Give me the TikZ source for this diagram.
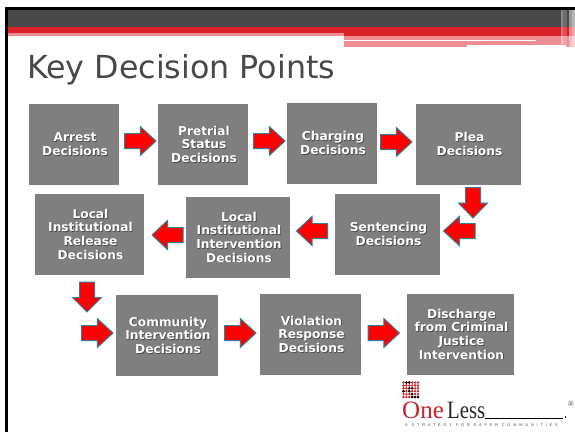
\documentclass[tikz,border=0pt]{standalone}
\usepackage{fontspec}
\setmainfont{DejaVu Sans}
\newfontfamily\logofont{Liberation Serif}
\newfontfamily\tagfont[LetterSpace=72]{Liberation Sans}
\definecolor{boxgray}{HTML}{7F7F7F}
\definecolor{bargray}{HTML}{484848}
\definecolor{barred}{HTML}{DC2028}
\definecolor{barpink}{HTML}{EE8E92}
\definecolor{arrowedge}{HTML}{2F7F95}
\definecolor{logored}{HTML}{C8242C}
\newcommand{\shadowed}[1]{\leavevmode\rlap{\kern0.8pt\raisebox{-0.8pt}{\textcolor{black!70}{#1}}}#1}
\tikzset{
  x=1pt,y=-1pt,
  stage/.style={inner sep=0pt,font=\bfseries\fontsize{12.2}{13.6}\selectfont,text=white,align=center},
  flow/.style={fill=red,draw=arrowedge,line width=1pt,line join=miter},
  logotext/.style={inner sep=0pt,anchor=base west,font=\logofont\fontsize{25}{25}\selectfont},
}
\newcommand{\stagebox}[6]{% name, x0,y0,x1,y1, text
  \path[fill=boxgray] (#2,#3) rectangle (#4,#5);
  \node[stage] (#1) at ({(#2+#4)/2+1},{(#3+#5)/2}) {#6};
}
\newcommand{\rarrow}[3]{\draw[flow] (#1,#3-7.5) -- ({(#1+#2)/2},#3-7.5) -- ({(#1+#2)/2},#3-14.5) -- (#2,#3) -- ({(#1+#2)/2},#3+14.5) -- ({(#1+#2)/2},#3+7.5) -- (#1,#3+7.5) -- cycle;}
\newcommand{\darrow}[3]{\draw[flow] (#1-7.5,#2) -- (#1+7.5,#2) -- (#1+7.5,{#2+15.5}) -- (#1+14.5,{#2+15.5}) -- (#1,#3) -- (#1-14.5,{#2+15.5}) -- (#1-7.5,{#2+15.5}) -- cycle;}
\begin{document}
\begin{tikzpicture}
\useasboundingbox (0,0) rectangle (575,432);
\fill[white] (0,0) rectangle (575,432);
% frame and header
\fill[black] (5,7) rectangle (575,10);
\fill[black] (5,7) rectangle (8,432);
\fill[bargray] (8,10) rectangle (575,27);
\fill[barred] (8,27) rectangle (575,36);
\fill[barpink] (8,33) rectangle (344,36);
\fill[barpink] (344,36) rectangle (575,47);
\fill[white] (344,39.5) rectangle (536,41);
\fill[white] (467,45) rectangle (566,47);
\fill[white,opacity=.35] (561,10) rectangle (563,47);
\fill[white,opacity=.2] (563,10) rectangle (567,47);
\fill[white,opacity=.45] (569,10) rectangle (572,47);
\fill[white,opacity=.6] (572,10) rectangle (575,47);
% title
\node[anchor=base west,inner sep=0pt,text=bargray,font=\fontsize{31.7}{35}\selectfont] (title) at (27,78) {Key Decision Points};
% boxes
\stagebox{arrest}{29}{104}{119}{185}{\shadowed{Arrest}\\\shadowed{Decisions}}
\stagebox{pretrial}{158}{104}{248}{185}{\shadowed{Pretrial}\\\shadowed{Status}\\\shadowed{Decisions}}
\stagebox{charging}{287}{103}{377}{184}{\shadowed{Charging}\\\shadowed{Decisions}}
\stagebox{plea}{416}{104}{521}{185}{\shadowed{Plea}\\\shadowed{Decisions}}
\stagebox{release}{35}{194}{144}{275}{\shadowed{Local}\\\shadowed{Institutional}\\\shadowed{Release}\\\shadowed{Decisions}}
\stagebox{institutional}{186}{197}{290}{278}{\shadowed{Local}\\\shadowed{Institutional}\\\shadowed{Intervention}\\\shadowed{Decisions}}
\stagebox{sentencing}{335}{194}{440}{275}{\shadowed{Sentencing}\\\shadowed{Decisions}}
\stagebox{community}{116}{295}{218}{376}{\shadowed{Community}\\\shadowed{Intervention}\\\shadowed{Decisions}}
\stagebox{violation}{260}{294}{361}{375}{\shadowed{Violation}\\\shadowed{Response}\\\shadowed{Decisions}}
\stagebox{discharge}{407}{294}{514}{375}{\shadowed{Discharge}\\\shadowed{from Criminal}\\\shadowed{Justice}\\\shadowed{Intervention}}
% arrows
\rarrow{124.5}{156}{141}
\rarrow{253.5}{285}{141}
\rarrow{380.5}{412}{142}
\darrow{473}{187.5}{218}
\rarrow{475}{443.5}{231}
\rarrow{327.5}{296.5}{231}
\rarrow{183}{152}{235}
\darrow{87}{282}{312}
\rarrow{81.5}{113}{333}
\rarrow{224.5}{256}{333}
\rarrow{368}{399.5}{333}
% logo
\foreach \i in {0,...,5}{\foreach \j in {0,...,5}{
  \fill[logored] ({403.5+\i*2.9},{382.5+\j*2.9}) circle (1.35);}}
\foreach \i/\j in {1/0,2/0,0/3,2/2,3/2,2/3,3/4,3/5,4/5,5/5}{
  \fill[black] ({403.5+\i*2.9},{382.5+\j*2.9}) circle (1.35);}
\node[logotext,text=logored] (one) at (402,418) {One};
\node[logotext,text=black!85,xscale=.83] (less) at (447,418) {Less};
\draw[black,line width=.8pt] (485,418) -- (563,418);
\fill[black] (565.5,417) circle (.8);
\node[inner sep=0pt,font=\logofont\fontsize{8}{8}\selectfont,text=black!70] (reg) at (571,403.5) {®};
\node[inner sep=0pt,anchor=base west,font=\tagfont\fontsize{3.9}{4}\selectfont,text=black!70] (tag) at (405,426) {A STRATEGY FOR SAFER COMMUNITIES};
\end{tikzpicture}
\end{document}
